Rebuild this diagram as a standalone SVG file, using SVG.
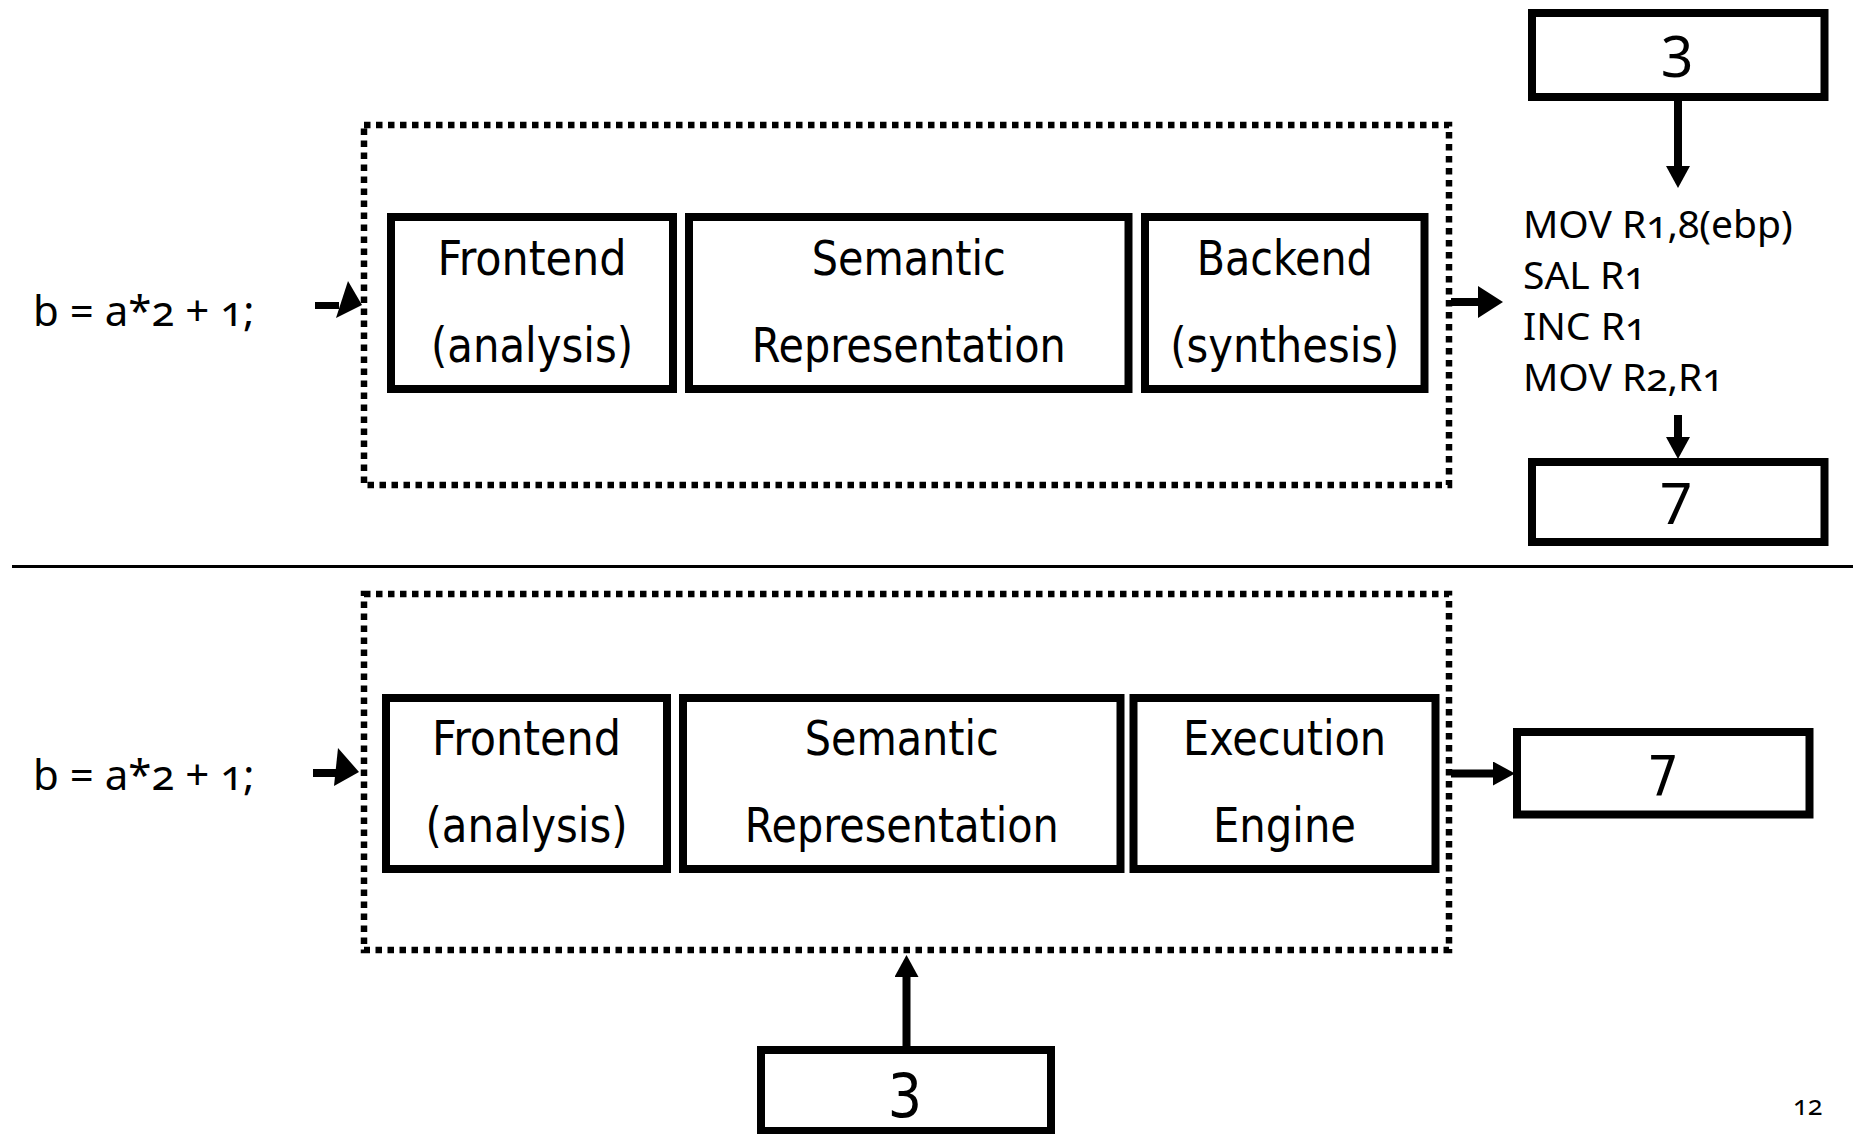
<svg xmlns="http://www.w3.org/2000/svg" width="1860" height="1134" viewBox="0 0 1860 1134">
  <defs>
    <style>
      .box { fill: #fff; stroke: #000; stroke-width: 8; }
      .frame { fill: none; stroke: #000; stroke-width: 6.5; stroke-dasharray: 6.5 5.5; }
      .lbl { font-family: "DejaVu Sans Condensed", "DejaVu Sans", sans-serif; font-stretch: condensed; font-size: 48px; text-anchor: middle; fill: #000; }
      .num { font-family: "Noto Sans", "Open Sans", sans-serif; font-size: 57px; text-anchor: middle; fill: #000; }
      .code { font-family: "Noto Sans", "Open Sans", sans-serif; font-size: 39px; fill: #000; font-variant-numeric: oldstyle-nums; font-feature-settings: "onum"; }
      .src { font-family: "Noto Sans", "Open Sans", sans-serif; font-size: 42px; fill: #000; font-variant-numeric: oldstyle-nums; font-feature-settings: "onum"; }
      .page { font-family: "Noto Sans", "Open Sans", sans-serif; font-size: 27px; fill: #000; font-variant-numeric: oldstyle-nums; font-feature-settings: "onum"; }
      .wire { stroke: #000; stroke-width: 8; fill: none; }
    </style>
    <marker id="head" viewBox="0 0 22 24" refX="0" refY="12" markerWidth="22" markerHeight="24" markerUnits="userSpaceOnUse" orient="auto">
      <path d="M0,0 L22,12 L0,24 Z" fill="#000"/>
    </marker>
    <marker id="headLg" viewBox="0 0 25 32" refX="0" refY="16" markerWidth="25" markerHeight="32" markerUnits="userSpaceOnUse" orient="auto">
      <path d="M0,0 L25,16 L0,32 Z" fill="#000"/>
    </marker>
  </defs>

  <rect width="1860" height="1134" fill="#fff"/>

  <!-- compiler pipeline (upper half) -->
  <g id="compiler-frame">
    <rect class="frame" x="364" y="125" width="1085" height="360"/>
  </g>
  <g id="source-top">
    <text class="src" x="33" y="326">b = a*2 + 1;</text>
  </g>
  <g id="frontend-top">
    <rect class="box" x="391" y="217" width="282" height="172"/>
    <text class="lbl" x="532" y="275" textLength="189" lengthAdjust="spacingAndGlyphs">Frontend</text>
    <text class="lbl" x="532" y="362" textLength="202" lengthAdjust="spacingAndGlyphs">(analysis)</text>
  </g>
  <g id="semantic-top">
    <rect class="box" x="689" y="217" width="439.5" height="172"/>
    <text class="lbl" x="908.75" y="275" textLength="194" lengthAdjust="spacingAndGlyphs">Semantic</text>
    <text class="lbl" x="908.75" y="362" textLength="314" lengthAdjust="spacingAndGlyphs">Representation</text>
  </g>
  <g id="backend">
    <rect class="box" x="1145" y="217" width="279.5" height="172"/>
    <text class="lbl" x="1284.75" y="275" textLength="176" lengthAdjust="spacingAndGlyphs">Backend</text>
    <text class="lbl" x="1284.75" y="362" textLength="229" lengthAdjust="spacingAndGlyphs">(synthesis)</text>
  </g>
  <g id="input-top">
    <rect class="box" x="1532" y="13" width="292.5" height="84"/>
    <text class="num" x="1677" y="77">3</text>
  </g>
  <g id="machine-code">
    <text class="code" x="1523" y="238">MOV R1,8(ebp)</text>
    <text class="code" x="1523" y="289">SAL R1</text>
    <text class="code" x="1523" y="340">INC R1</text>
    <text class="code" x="1523" y="391">MOV R2,R1</text>
  </g>
  <g id="output-top">
    <rect class="box" x="1532" y="462" width="292.5" height="80"/>
    <text class="num" x="1676" y="524">7</text>
  </g>

  <!-- separator -->
  <line x1="12" y1="566.5" x2="1853" y2="566.5" stroke="#000" stroke-width="3"/>

  <!-- interpreter pipeline (lower half) -->
  <g id="interpreter-frame">
    <rect class="frame" x="364" y="594" width="1085" height="356"/>
  </g>
  <g id="source-bottom">
    <text class="src" x="33" y="790">b = a*2 + 1;</text>
  </g>
  <g id="frontend-bottom">
    <rect class="box" x="386" y="698" width="281" height="171"/>
    <text class="lbl" x="526.5" y="755" textLength="189" lengthAdjust="spacingAndGlyphs">Frontend</text>
    <text class="lbl" x="526.5" y="842" textLength="202" lengthAdjust="spacingAndGlyphs">(analysis)</text>
  </g>
  <g id="semantic-bottom">
    <rect class="box" x="683" y="698" width="437.5" height="171"/>
    <text class="lbl" x="901.75" y="755" textLength="194" lengthAdjust="spacingAndGlyphs">Semantic</text>
    <text class="lbl" x="901.75" y="842" textLength="314" lengthAdjust="spacingAndGlyphs">Representation</text>
  </g>
  <g id="execution-engine">
    <rect class="box" x="1133.5" y="698" width="302" height="171"/>
    <text class="lbl" x="1284.5" y="755" textLength="203" lengthAdjust="spacingAndGlyphs">Execution</text>
    <text class="lbl" x="1284.5" y="842" textLength="143" lengthAdjust="spacingAndGlyphs">Engine</text>
  </g>
  <g id="output-bottom">
    <rect class="box" x="1517" y="732" width="292.5" height="82.5"/>
    <text class="lbl" x="1663" y="795" style="font-size:56px">7</text>
  </g>
  <g id="input-bottom">
    <rect class="box" x="761" y="1050" width="290" height="81"/>
    <text class="lbl" x="905" y="1117" style="font-size:60px">3</text>
  </g>

  <!-- connectors -->
  <g id="connectors">
    <!-- source into compiler frame -->
    <rect x="315" y="302" width="24" height="7" fill="#000"/>
    <polygon points="348,281 362,305 336,318" fill="#000"/>
    <!-- compiler frame to machine code -->
    <line class="wire" x1="1451" y1="302" x2="1478" y2="302" stroke-width="7" marker-end="url(#headLg)"/>
    <!-- input value down to machine code -->
    <line class="wire" x1="1678" y1="101" x2="1678" y2="166" stroke-width="9" marker-end="url(#head)"/>
    <!-- machine code down to result -->
    <line class="wire" x1="1678" y1="415" x2="1678" y2="437" stroke-width="9" marker-end="url(#head)"/>
    <!-- source into interpreter frame -->
    <rect x="313" y="769" width="23" height="8" fill="#000"/>
    <polygon points="338,748 359,772 334,786" fill="#000"/>
    <!-- interpreter frame to result -->
    <line class="wire" x1="1451" y1="773.5" x2="1493" y2="773.5" stroke-width="7" marker-end="url(#head)"/>
    <!-- input value up into interpreter frame -->
    <line class="wire" x1="906.5" y1="1046" x2="906.5" y2="977" stroke-width="7" marker-end="url(#head)"/>
  </g>

  <g id="page-number">
    <text class="page" x="1793" y="1115">12</text>
  </g>
</svg>
